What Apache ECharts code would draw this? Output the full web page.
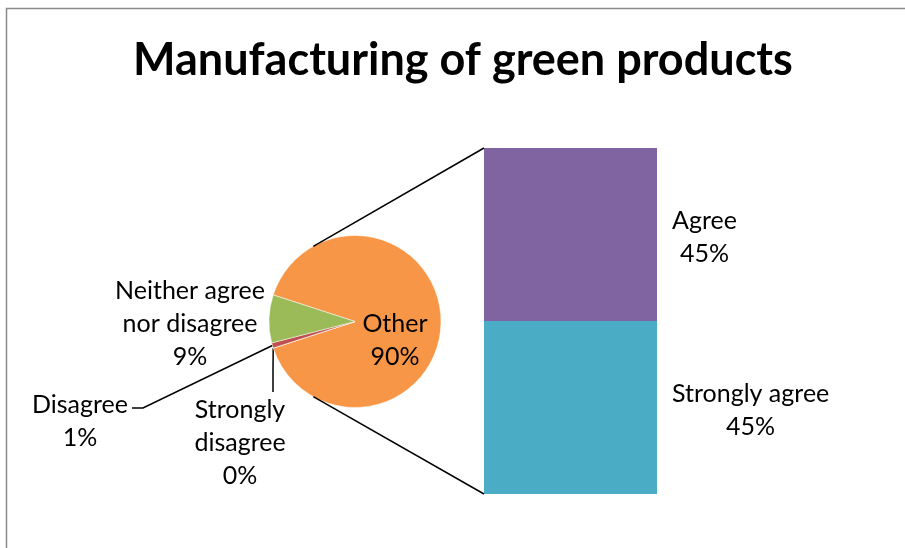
<!DOCTYPE html>
<html>
<head>
<meta charset="utf-8">
<script src="https://cdn.jsdelivr.net/npm/echarts@6/dist/echarts.min.js"></script>
<style>
  html, body { margin: 0; padding: 0; background: #fff; }
  #chart { width: 905px; height: 548px; }
</style>
</head>
<body>
<div id="chart"></div>
<script>
// pie part (the "Other" slice is broken out into the bar)
const pieNames = ['Other', 'Strongly disagree', 'Disagree', 'Neither agree nor disagree'];
const pieLabels = ['Other', 'Strongly\ndisagree', 'Disagree', 'Neither agree\nnor disagree'];
const pieValues = [90, 0, 1, 9];
const pieColors = ['#F79646', '#4F81BD', '#C0504D', '#9BBB59'];

// bar part, bottom to top
const barNames = ['Strongly agree', 'Agree'];
const barValues = [45, 45];
const barColors = ['#4BACC6', '#8064A2'];

const FONT = 'Lato, "DejaVu Sans", sans-serif';

// layout
const pieCenter = [355, 321.5];
const pieRadius = 86;
const barGrid = { left: 484, top: 148, width: 173, height: 346 };

// where each pie label sits (centre of the text block) and its leader line bend points
const pieLabelPos = [
  { x: 395, y: 340 },
  { x: 240, y: 443, bends: [[273, 370], [273, 392]] },
  { x: 80, y: 421, bends: [[143, 408], [132, 408]] },
  { x: 190, y: 324 },
];

const chart = echarts.init(document.getElementById('chart'));

const total = barValues.reduce((a, b) => a + b, 0);

// connector lines from pie edge to bar corners
const connAngle = 119 * Math.PI / 180;
const connTop = [pieCenter[0] + pieRadius * Math.cos(connAngle), pieCenter[1] - pieRadius * Math.sin(connAngle)];
const connBot = [connTop[0], pieCenter[1] + pieRadius * Math.sin(connAngle)];

const option = {
  animation: false,
  title: {
    text: 'Manufacturing of green products',
    left: 128,
    top: 33,
    textStyle: { fontFamily: FONT, fontWeight: 'bold', fontSize: 45, color: '#000' },
  },
  graphic: [
    {
      type: 'rect',
      shape: { x: 6.5, y: 8.5, width: 960, height: 600 },
      style: { fill: null, stroke: '#8a8a8a', lineWidth: 1.5 },
      silent: true,
    },
    {
      type: 'polyline',
      shape: { points: [connTop, [barGrid.left, barGrid.top]] },
      style: { stroke: '#000', lineWidth: 1.5, fill: null },
      z: 10,
    },
    {
      type: 'polyline',
      shape: { points: [connBot, [barGrid.left, barGrid.top + barGrid.height]] },
      style: { stroke: '#000', lineWidth: 1.5, fill: null },
      z: 10,
    },
  ],
  grid: { left: barGrid.left, top: barGrid.top, width: barGrid.width, height: barGrid.height },
  xAxis: { type: 'category', data: [''], show: false },
  yAxis: { type: 'value', min: 0, max: total, show: false },
  series: [
    {
      type: 'pie',
      center: pieCenter,
      radius: pieRadius,
      startAngle: 162,
      clockwise: true,
      itemStyle: { borderColor: '#fff', borderWidth: 0.5 },
      data: pieNames.map((n, i) => ({
        name: n,
        value: pieValues[i],
        itemStyle: { color: pieColors[i] },
        labelLine: { show: !!pieLabelPos[i].bends },
      })),
      label: {
        show: true,
        fontFamily: FONT,
        fontSize: 25,
        lineHeight: 33,
        color: '#000',
        align: 'center',
        formatter: p => pieLabels[p.dataIndex] + '\n' + Math.round(p.percent) + '%',
      },
      labelLine: { lineStyle: { color: '#000', width: 1.5 }, length: 10, length2: 10 },
      labelLayout: params => {
        const pos = pieLabelPos[params.dataIndex];
        const out = { x: pos.x, y: pos.y, align: 'center', verticalAlign: 'middle' };
        if (pos.bends && params.labelLinePoints) {
          out.labelLinePoints = [params.labelLinePoints[0], pos.bends[0], pos.bends[1]];
        }
        return out;
      },
    },
    ...barNames.map((n, i) => ({
      type: 'bar',
      name: n,
      stack: 'other',
      barWidth: '100%',
      data: [barValues[i]],
      itemStyle: { color: barColors[i] },
      label: {
        show: true,
        position: 'right',
        fontFamily: FONT,
        fontSize: 25,
        lineHeight: 33,
        color: '#000',
        align: 'center',
        formatter: p => n + '\n' + Math.round(p.value / 100 * 100) + '%',
      },
      labelLayout: params => ({
        x: params.rect.x + params.rect.width + 15 + params.labelRect.width / 2,
        y: params.rect.y + params.rect.height / 2 + 3,
        align: 'center',
        verticalAlign: 'middle',
      }),
    })),
  ],
};

chart.setOption(option);
</script>
</body>
</html>
